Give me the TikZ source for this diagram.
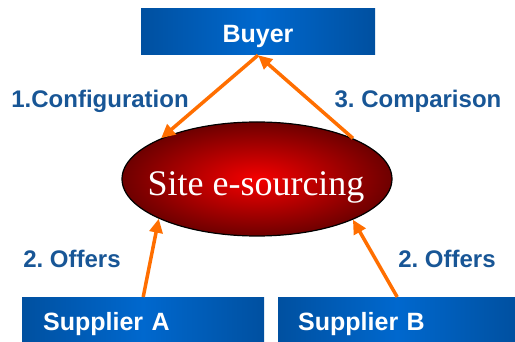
\documentclass[tikz,border=0pt]{standalone}
\usepackage{fontspec}
\setmainfont{Liberation Serif}
\setsansfont{Liberation Sans}
\usetikzlibrary{shapes.geometric,arrows.meta}
\definecolor{boxblue}{RGB}{0,80,160}
\definecolor{boxlight}{RGB}{0,104,206}
\definecolor{labblue}{RGB}{24,86,150}
\definecolor{arrorange}{RGB}{255,110,0}
\definecolor{sitered}{RGB}{245,0,0}
\definecolor{sitedark}{RGB}{110,0,0}
\frenchspacing
\tikzset{
  actor/.style={left color=boxblue, right color=boxblue, middle color=boxlight,
    minimum height=46pt, inner sep=0pt, text height=21pt, text depth=0pt,
    text=white, font=\sffamily\bfseries\fontsize{25}{25}\selectfont},
  steplabel/.style={text=labblue, font=\sffamily\bfseries\fontsize{24}{24}\selectfont},
  site/.style={ellipse, draw=black, line width=1.2pt, inner color=sitered,
    outer color=sitedark, minimum width=270pt, minimum height=114pt},
}

\begin{document}
\begin{tikzpicture}[x=1pt,y=-1pt]
\useasboundingbox (0,0) rectangle (515,342);
\node[actor, minimum width=234pt] (B) at (258,32) {Buyer};
\node[actor, anchor=north west, text width=200pt, inner xsep=21pt, align=left] (SA) at (22,297) {Supplier A};
\node[actor, anchor=north west, text width=198pt, inner xsep=20pt, align=left] (SB) at (278,297) {Supplier B};
\node[site] (S) at (257,179) {};
\node[text=white, font=\fontsize{36}{36}\selectfont] (St) at (256,187) {Site e-sourcing};
\node[steplabel] (L1) at (100,101) {1.Configuration};
\node[steplabel] (L3) at (418,101) {3. Comparison};
\node[steplabel] (L2a) at (72,259) {2. Offers};
\node[steplabel] (L2b) at (447,259) {2. Offers};
\path[-{Triangle[length=14pt,width=13pt]}, arrorange, line width=3.5pt]
(B.south) edge (S.157)
(S.23) edge (B.south)
(SA.north) edge (S.202)
(SB.north) edge (S.337);
\end{tikzpicture}
\end{document}
